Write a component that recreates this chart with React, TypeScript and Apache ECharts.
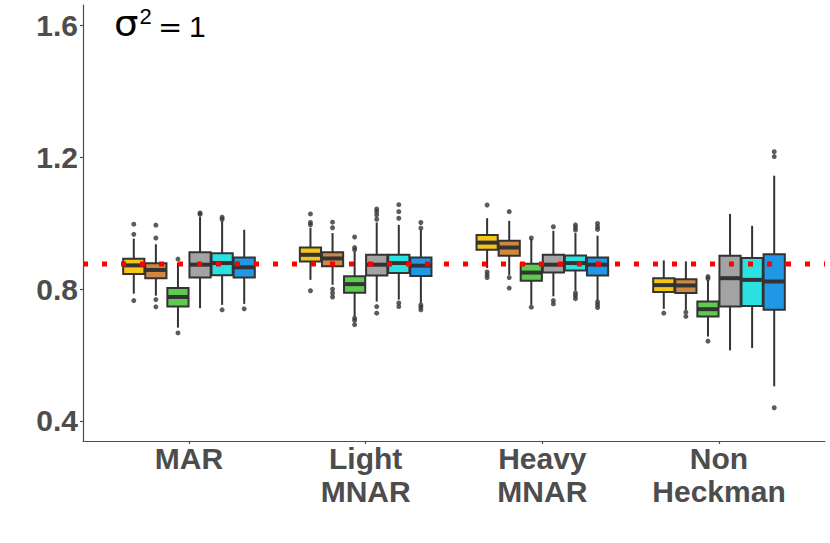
import React, { useEffect, useRef } from "react";
import * as echarts from "echarts";

// Categories on the x axis (positions 1..4)
const CATEGORIES = ["MAR", "Light\nMNAR", "Heavy\nMNAR", "Non\nHeckman"];
const Y_TICKS = [0.4, 0.8, 1.2, 1.6];
const TARGET = 0.876;

const METHODS = ["Method 1", "Method 2", "Method 3", "Method 4", "Method 5", "Method 6"];
const COLORS = ["#F5C518", "#CF8742", "#5CCB4E", "#A3A3A3", "#2CE1E1", "#2198E6"];

// [low whisker, Q1, median, Q3, high whisker] per category
const M1_BOX = [
  [0.786, 0.846, 0.872, 0.892, 0.953],
  [0.828, 0.884, 0.904, 0.926, 0.986],
  [0.864, 0.919, 0.941, 0.964, 1.015],
  [0.740, 0.791, 0.812, 0.833, 0.887],
];
const M1_OUT = [[0.997, 0.966, 0.765], [1.028, 1.002, 0.995, 0.795], [1.055, 0.852, 0.843, 0.835], [0.727]];

const M2_BOX = [
  [0.780, 0.833, 0.858, 0.878, 0.936],
  [0.813, 0.869, 0.893, 0.912, 0.970],
  [0.843, 0.901, 0.926, 0.947, 1.007],
  [0.737, 0.788, 0.811, 0.830, 0.884],
];
const M2_OUT = [[0.994, 0.955, 0.768, 0.746], [1.003, 0.986, 0.800, 0.788, 0.776], [1.035, 0.835, 0.803], [0.730, 0.717]];

const M3_BOX = [
  [0.683, 0.747, 0.776, 0.803, 0.880],
  [0.717, 0.789, 0.815, 0.839, 0.913],
  [0.752, 0.825, 0.850, 0.877, 0.952],
  [0.656, 0.717, 0.739, 0.762, 0.828],
];
const M3_OUT = [[0.891, 0.667], [0.958, 0.926, 0.919, 0.712, 0.705, 0.692], [0.955, 0.745], [0.838, 0.832, 0.642]];

const M4_BOX = [
  [0.742, 0.835, 0.874, 0.912, 1.019],
  [0.762, 0.841, 0.874, 0.904, 1.002],
  [0.778, 0.850, 0.874, 0.904, 0.977],
  [0.614, 0.747, 0.833, 0.901, 1.028],
];
const M4_OUT = [[1.031, 1.027], [1.043, 1.035, 1.025, 1.012, 0.747, 0.727], [0.989, 0.765, 0.755], []];

const M5_BOX = [
  [0.752, 0.842, 0.879, 0.909, 1.005],
  [0.768, 0.849, 0.879, 0.904, 0.995],
  [0.795, 0.856, 0.879, 0.902, 0.970],
  [0.621, 0.749, 0.828, 0.894, 0.992],
];
const M5_OUT = [[1.018, 1.011, 0.737], [1.056, 1.035, 1.015, 0.758, 0.747], [0.995, 0.987, 0.979, 0.788, 0.780, 0.771], []];

const M6_BOX = [
  [0.755, 0.835, 0.866, 0.896, 0.980],
  [0.758, 0.840, 0.871, 0.896, 0.980],
  [0.765, 0.841, 0.874, 0.896, 0.962],
  [0.505, 0.737, 0.823, 0.906, 1.144],
];
const M6_OUT = [[0.740], [1.002, 0.985, 0.752, 0.745, 0.737], [0.999, 0.989, 0.981, 0.761, 0.753, 0.744], [1.217, 1.202, 0.440]];

const BOXES = [M1_BOX, M2_BOX, M3_BOX, M4_BOX, M5_BOX, M6_BOX];
const OUTLIERS = [M1_OUT, M2_OUT, M3_OUT, M4_OUT, M5_OUT, M6_OUT];

const DODGE = 0.125;
const BOX_W = 0.125 * 0.96;
const INK = "#333333";
const LABEL = "#4D4D4D";

export default function App() {
  const ref = useRef<HTMLDivElement>(null);
  useEffect(() => {
    if (!ref.current) return;
    const chart = echarts.init(ref.current, undefined, { renderer: "svg" });

    const series: any[] = [];
    BOXES.forEach((boxes, m) => {
      const color = COLORS[m];
      const off = (m - 2.5) * DODGE;
      series.push({
        type: "custom",
        name: METHODS[m],
        data: boxes.map((b, c) => [c + 1, ...b]),
        encode: { x: 0, y: [1, 2, 3, 4, 5] },
        z: 2,
        renderItem: (params: any, api: any) => {
          const x = api.value(0) + off;
          const pLow = api.coord([x, api.value(1)]);
          const pQ1 = api.coord([x, api.value(2)]);
          const pMed = api.coord([x, api.value(3)]);
          const pQ3 = api.coord([x, api.value(4)]);
          const pHigh = api.coord([x, api.value(5)]);
          const w = api.size([BOX_W, 0])[0];
          return {
            type: "group",
            children: [
              {
                type: "line",
                shape: { x1: pLow[0], y1: pLow[1], x2: pHigh[0], y2: pHigh[1] },
                style: { stroke: INK, lineWidth: 2 },
              },
              {
                type: "rect",
                shape: { x: pQ3[0] - w / 2, y: pQ3[1], width: w, height: pQ1[1] - pQ3[1] },
                style: { fill: color, stroke: INK, lineWidth: 2 },
              },
              {
                type: "line",
                shape: { x1: pMed[0] - w / 2, y1: pMed[1], x2: pMed[0] + w / 2, y2: pMed[1] },
                style: { stroke: INK, lineWidth: 4 },
              },
            ],
          };
        },
      });
      const pts: number[][] = [];
      OUTLIERS[m].forEach((vals, c) => vals.forEach((v) => pts.push([c + 1 + off, v])));
      series.push({
        type: "scatter",
        name: METHODS[m] + " outliers",
        data: pts,
        symbol: "circle",
        symbolSize: 5,
        itemStyle: { color: INK },
        z: 3,
      });
    });

    series.push({
      type: "line",
      name: "target",
      data: [[0.4, TARGET], [4.6, TARGET]],
      symbol: "none",
      lineStyle: { color: "#FF0000", width: 5, type: [5, 14], cap: "butt" },
      z: 10,
    });

    chart.setOption({
      animation: false,
      grid: { left: 83, right: 5, top: 5, bottom: 102, containLabel: false },
      xAxis: {
        type: "value",
        min: 0.4,
        max: 4.6,
        splitLine: { show: false },
        axisLine: { show: true, lineStyle: { color: LABEL, width: 1.2 } },
        axisTick: { show: true, length: 3, customValues: [1, 2, 3, 4], lineStyle: { color: LABEL, width: 1.2 } },
        axisLabel: {
          customValues: [1, 2, 3, 4],
          formatter: (v: number) => CATEGORIES[Math.round(v) - 1] ?? "",
          fontFamily: "Liberation Sans",
          fontWeight: "bold",
          fontSize: 30,
          lineHeight: 33,
          color: LABEL,
          margin: 1,
        },
      },
      yAxis: {
        type: "value",
        min: 0.339,
        max: 1.662,
        splitLine: { show: false },
        axisLine: { show: true, lineStyle: { color: LABEL, width: 1.2 } },
        axisTick: { show: true, length: 3, customValues: Y_TICKS, lineStyle: { color: LABEL, width: 1.2 } },
        axisLabel: {
          customValues: Y_TICKS,
          formatter: (v: number) => v.toFixed(1),
          fontFamily: "Liberation Sans",
          fontWeight: "bold",
          fontSize: 30,
          color: LABEL,
          margin: 5,
        },
      },
      graphic: [
        {
          type: "text",
          x: 114,
          y: 36.7 - 0.35 * 35,
          scaleX: 1.1,
          style: { text: "σ", font: '35px "DejaVu Sans"', fill: "#000", verticalAlign: "middle" },
        },
        {
          type: "text",
          x: 139.5,
          y: 24 - 0.35 * 22,
          style: { text: "2", font: '22px "Liberation Sans"', fill: "#000", verticalAlign: "middle" },
        },
        {
          type: "text",
          x: 158,
          y: 36.7 - 0.35 * 29,
          style: { text: "=", font: '29px "DejaVu Sans"', fill: "#000", verticalAlign: "middle" },
        },
        {
          type: "text",
          x: 189,
          y: 36.7 - 0.35 * 30,
          style: { text: "1", font: '30px "Liberation Sans"', fill: "#000", verticalAlign: "middle" },
        },
      ],
      series,
    });
    return () => chart.dispose();
  }, []);
  return (
    <div
      ref={ref}
      style={{ position: "fixed", left: 0, top: 0, width: 830, height: 543, background: "#fff" }}
    />
  );
}
